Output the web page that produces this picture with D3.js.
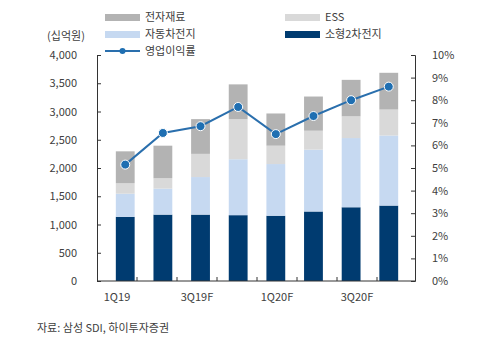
<!DOCTYPE html>
<html>
<head>
<meta charset="utf-8">
<script src="https://cdn.jsdelivr.net/npm/d3@7"></script>
<style>
  body { margin: 0; background: #fff; }
  text { font-family: "Noto Sans CJK KR", "Noto Sans", sans-serif; fill: #404040; }
</style>
</head>
<body>
<svg id="chart" width="500" height="350"></svg>
<script>
const quarters = ['1Q19', '2Q19', '3Q19F', '4Q19F', '1Q20F', '2Q20F', '3Q20F', '4Q20F'];
const shownTicks = ['1Q19', '3Q19F', '1Q20F', '3Q20F'];
const small = [1135, 1175, 1175, 1165, 1155, 1230, 1305, 1335];
const ev = [410, 460, 665, 990, 915, 1095, 1225, 1240];
const ess = [185, 185, 410, 710, 325, 335, 385, 460];
const elec = [565, 575, 615, 615, 570, 605, 645, 650];
const margin = [5.15, 6.55, 6.85, 7.7, 6.5, 7.3, 8.0, 8.6];
const leftTicks = [0, 500, 1000, 1500, 2000, 2500, 3000, 3500, 4000];
const rightTicks = [0, 1, 2, 3, 4, 5, 6, 7, 8, 9, 10];

const svg = d3.select('#chart');
const x0 = 97, x1 = 417, yTop = 55, yBot = 281;

const keys = ['small', 'ev', 'ess', 'elec'];
const colors = { small: '#003b70', ev: '#c6d9f1', ess: '#d9d9d9', elec: '#b3b3b3' };
const table = quarters.map((q, i) => ({ q: q, small: small[i], ev: ev[i], ess: ess[i], elec: elec[i], m: margin[i] }));

const x = d3.scaleBand().domain(quarters).range([x0, x1]).padding(0.5);
const y = d3.scaleLinear().domain([0, 4000]).range([yBot, yTop]);
const y2 = d3.scaleLinear().domain([0, 10]).range([yBot, yTop]);

const stack = d3.stack().keys(keys)(table);
svg.append('g').selectAll('g')
  .data(stack)
  .join('g')
  .attr('fill', d => colors[d.key])
  .selectAll('rect')
  .data(d => d)
  .join('rect')
  .attr('x', d => x(d.data.q))
  .attr('y', d => y(d[1]))
  .attr('width', x.bandwidth())
  .attr('height', d => y(d[0]) - y(d[1]));

// axes
const leftAxis = d3.axisLeft(y).tickValues(leftTicks).tickSize(-4).tickPadding(20).tickFormat(d3.format(','));
const gl = svg.append('g').attr('transform', `translate(${x0},0)`).call(leftAxis);
const rightAxis = d3.axisRight(y2).tickValues(rightTicks).tickSize(-4).tickPadding(17).tickFormat(d => d + '%');
const gr = svg.append('g').attr('transform', `translate(${x1 - 2},0)`).call(rightAxis);

const xb = d3.scaleBand().domain(quarters).range([x0, x1]);
const bottomAxis = d3.axisBottom(xb).tickValues(shownTicks).tickSize(0).tickPadding(12);
const gb = svg.append('g').attr('transform', `translate(0,${yBot})`).call(bottomAxis);
gb.selectAll('.tick').filter((d, i) => false);
// boundary ticks on x axis
svg.append('g').selectAll('line')
  .data(quarters.slice(1))
  .join('line')
  .attr('x1', d => xb(d)).attr('x2', d => xb(d))
  .attr('y1', yBot).attr('y2', yBot - 4)
  .attr('stroke', '#333');

[gl, gr, gb].forEach(g => {
  g.select('.domain').attr('stroke', '#333');
  g.selectAll('.tick line').attr('stroke', '#333');
  g.selectAll('text').style('font-size', '11px').attr('fill', '#404040');
});
gb.select('.domain').attr('d', `M${x0},0H${x1 - 2}`);

// line
const line = d3.line().x(d => x(d.q) + x.bandwidth() / 2).y(d => y2(d.m));
svg.append('path').datum(table)
  .attr('d', line)
  .attr('fill', 'none')
  .attr('stroke', '#2a6fad')
  .attr('stroke-width', 2);
svg.append('g').selectAll('circle')
  .data(table)
  .join('circle')
  .attr('cx', d => x(d.q) + x.bandwidth() / 2)
  .attr('cy', d => y2(d.m))
  .attr('r', 4.5)
  .attr('fill', '#1f6fb2')
  .attr('stroke', '#fff')
  .attr('stroke-width', 1);

// unit
svg.append('text').attr('x', 66).attr('y', 40).attr('text-anchor', 'middle')
  .style('font-size', '11px').text('(십억원)');

// legend
const legend = [
  { label: '전자재료', key: 'elec', lx: 105, ly: 17 },
  { label: 'ESS', key: 'ess', lx: 285, ly: 17 },
  { label: '자동차전지', key: 'ev', lx: 105, ly: 34 },
  { label: '소형2차전지', key: 'small', lx: 285, ly: 34 }
];
legend.forEach(l => {
  svg.append('rect').attr('x', l.lx).attr('y', l.ly - 3).attr('width', 35).attr('height', 7).attr('fill', colors[l.key]);
  svg.append('text').attr('x', l.lx + 40).attr('y', l.ly + 4).style('font-size', '11px').text(l.label);
});
svg.append('line').attr('x1', 105).attr('x2', 140).attr('y1', 51).attr('y2', 51)
  .attr('stroke', '#2a6fad').attr('stroke-width', 2);
svg.append('circle').attr('cx', 122.5).attr('cy', 51).attr('r', 3).attr('fill', '#1f6fb2');
svg.append('text').attr('x', 145).attr('y', 55).style('font-size', '11px').text('영업이익률');

// source
svg.append('text').attr('x', 37).attr('y', 332).style('font-size', '11px').text('자료: 삼성 SDI, 하이투자증권');
</script>
</body>
</html>
